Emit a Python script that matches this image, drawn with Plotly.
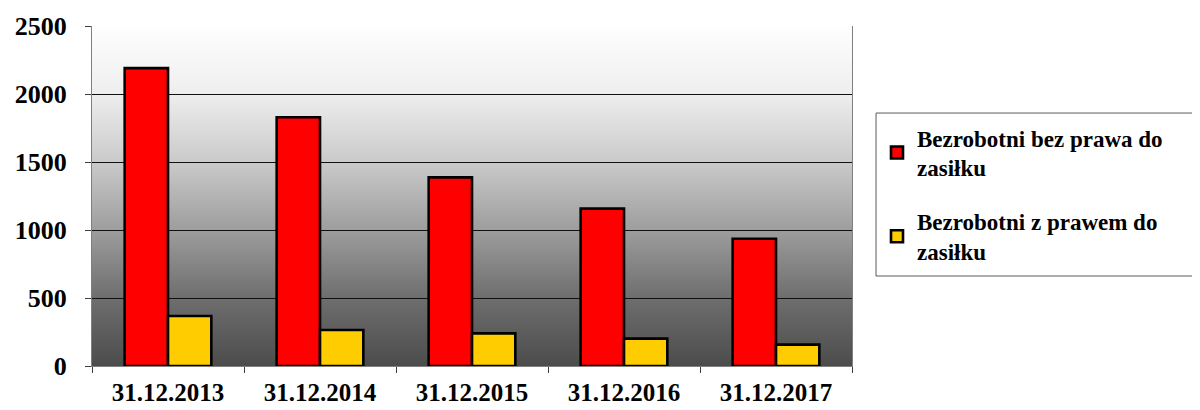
import plotly.graph_objects as go

categories = ["31.12.2013", "31.12.2014", "31.12.2015", "31.12.2016", "31.12.2017"]
bez_prawa = [2190, 1829, 1387, 1157, 936]
z_prawem = [368, 265, 240, 201, 157]
series_names = ["Bezrobotni bez prawa do<br>zasiłku", "Bezrobotni z prawem do<br>zasiłku"]
y_ticks = [0, 500, 1000, 1500, 2000, 2500]

FONT = "Liberation Serif"

fig = go.Figure()
fig.add_trace(go.Bar(x=categories, y=bez_prawa, name=series_names[0], legendgroup="a",
                     marker=dict(color="#ff0000", line=dict(color="#000000", width=2.6))))
fig.add_trace(go.Bar(x=categories, y=z_prawem, name=series_names[1], legendgroup="b",
                     marker=dict(color="#ffcc00", line=dict(color="#000000", width=2.6))))

# gradient background bands (white at top -> dark grey at bottom)
stops = [(0.0, 254), (0.2, 238), (0.4, 202), (0.6, 157), (0.8, 110), (1.0, 76)]
def grey_at(t):
    for (t0, g0), (t1, g1) in zip(stops[:-1], stops[1:]):
        if t0 <= t <= t1:
            return g0 + (g1 - g0) * (t - t0) / (t1 - t0)
    return stops[-1][1]

shapes = []
N = 340
for i in range(N):
    t = (i + 0.5) / N
    g = int(round(grey_at(t)))
    shapes.append(dict(type="rect", xref="x domain", yref="y domain", layer="below",
                       x0=0, x1=1, y0=max(0, 1 - (i + 1) / N - 0.002), y1=1 - i / N,
                       fillcolor=f"rgb({g},{g},{g})", line=dict(width=0)))
# legend frame
shapes.append(dict(type="rect", xref="paper", yref="paper",
                   x0=1.0316, x1=1.4526, y0=0.2647, y1=0.744,
                   line=dict(color="#5a5a5a", width=1), fillcolor="rgba(0,0,0,0)"))

# page body has an 8px margin, so the figure is drawn 8px in from the window edge
fig.update_layout(
    width=1192, height=402,
    margin=dict(l=84, r=348, t=18, b=44),
    paper_bgcolor="#ffffff",
    plot_bgcolor="rgba(0,0,0,0)",
    barmode="group",
    bargap=0.43,
    bargroupgap=0,
    shapes=shapes,
    font=dict(family=FONT, color="#000000"),
    showlegend=True,
    legend=dict(x=1.0329, y=0.735, xanchor="left", yanchor="top",
                font=dict(family=FONT, size=23, color="#000000", weight="bold"),
                bgcolor="rgba(0,0,0,0)", borderwidth=0, tracegroupgap=21,
                itemwidth=30),
)
fig.update_xaxes(
    type="category", automargin=False,
    showline=True, linecolor="#808080", linewidth=1,
    ticks="outside", tickson="boundaries", ticklen=6, tickcolor="#404040",
    tickfont=dict(family=FONT, size=25, weight="bold", color="#000000"),
    ticklabelstandoff=4,
    showgrid=False,
)
fig.update_yaxes(
    range=[0, 2500], tickvals=y_ticks, automargin=False,
    showline=True, linecolor="#808080", linewidth=1, mirror=True,
    ticks="outside", ticklen=6, tickcolor="#404040",
    tickfont=dict(family=FONT, size=26, weight="bold", color="#000000"),
    ticklabelstandoff=13,
    showgrid=True, gridcolor="#111111", gridwidth=1,
    zeroline=False,
)

fig.write_html("out.html")
